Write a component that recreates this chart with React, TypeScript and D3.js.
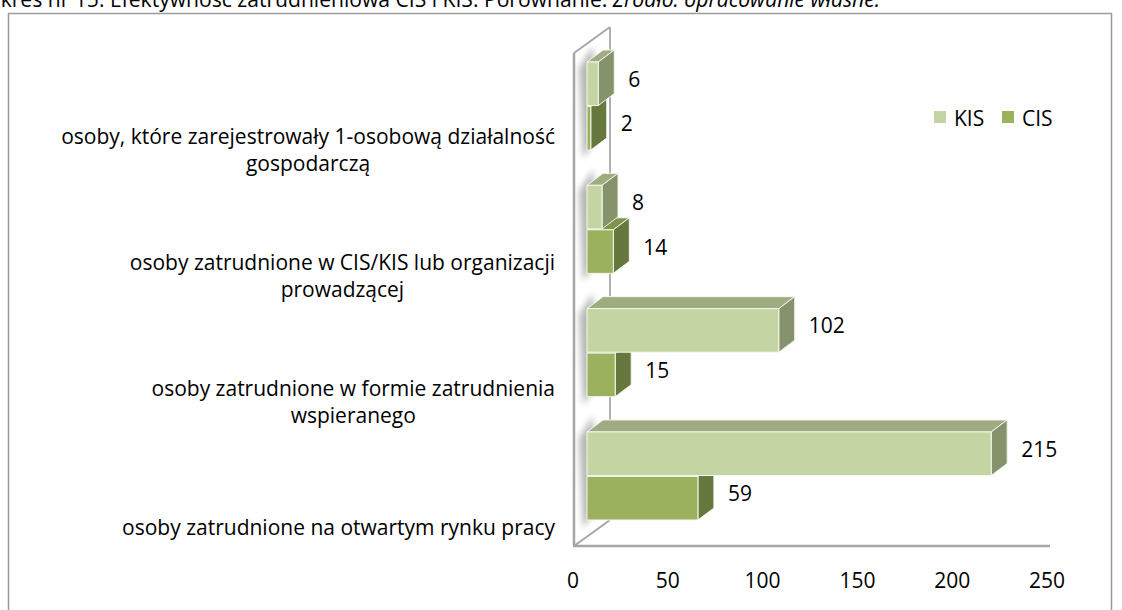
import React from "react";
import * as d3 from "d3";

const categories = [
  "osoby, które zarejestrowały 1-osobową działalność gospodarczą",
  "osoby zatrudnione w CIS/KIS lub organizacji prowadzącej",
  "osoby zatrudnione w formie zatrudnienia wspieranego",
  "osoby zatrudnione na otwartym rynku pracy",
];
const categoryLines = [
  ["osoby, które zarejestrowały 1-osobową działalność", "gospodarczą"],
  ["osoby zatrudnione w CIS/KIS lub organizacji", "prowadzącej"],
  ["osoby zatrudnione w formie zatrudnienia", "wspieranego"],
  ["osoby zatrudnione na otwartym rynku pracy"],
];
const seriesNames = ["KIS", "CIS"];
const kisValues = [6, 8, 102, 215];
const cisValues = [2, 14, 15, 59];
const xTicks = [0, 50, 100, 150, 200, 250];
const titleNormal = "Wykres nr 15. Efektywność zatrudnieniowa CIS i KIS. Porównanie. ";
const titleItalic = "Źródło: opracowanie własne.";

const FONT = "'Open Sans', 'Noto Sans', sans-serif";
const W = 1122;
const H = 610;

const colors: Record<string, { front: string; top: string; side: string; legend: string }> = {
  KIS: { front: "#c4d5a3", top: "#9fac82", side: "#86926b", legend: "#c4d5a3" },
  CIS: { front: "#9bb15e", top: "#7f9249", side: "#67783e", legend: "#9bb15e" },
};

function measure(text: string, size: number, style = "") {
  if (typeof document === "undefined") return text.length * size * 0.5;
  const c = document.createElement("canvas");
  const ctx = c.getContext("2d")!;
  ctx.font = `${style} ${size}px ${FONT}`;
  return ctx.measureText(text).width;
}

export default function App() {
  // fit the font so the longest category line spans like the reference
  const refW = measure(categoryLines[0][0], 20);
  const FS = Math.min(21, Math.max(16, (20 * 499) / refW));
  const titleVisible = "kres nr 15. Efektywność zatrudnieniowa CIS i KIS. Porównanie. ";
  const tW = measure(titleVisible, 15) + measure(titleItalic, 15, "italic");
  const TFS = Math.min(22, Math.max(12, (15 * 880) / tW));

  // axis (front floor edge) scale
  const xAxis = d3.scaleLinear().domain([0, 250]).range([573, 1047]);
  // bar front-plane scale
  const xBar = d3.scaleLinear().domain([0, 250]).range([587, 1057]);
  const yGroup = d3.scaleBand<string>().domain(categories).range([62, 520]).paddingInner(0.286).paddingOuter(0);
  const ySeries = d3.scaleBand<string>().domain(seriesNames).range([0, yGroup.bandwidth()]).paddingInner(0.02);
  const yLabel = d3.scaleBand<string>().domain(categories).range([86, 590]);

  const dx = 16;
  const dy = 12;
  const floorY = 546;
  const wallTop = 53;
  const wallDx = 36;
  const wallDy = 26;

  const bars: any[] = [];
  categories.forEach((cat, i) => {
    [
      { s: "CIS", v: cisValues[i] },
      { s: "KIS", v: kisValues[i] },
    ].forEach(({ s, v }) => {
      const y = (yGroup(cat) as number) + (ySeries(s) as number);
      const h = ySeries.bandwidth();
      const x0 = xBar(0);
      const x1 = xBar(v);
      bars.push({ cat, s, v, y, h, x0, x1 });
    });
  });

  const lineH = 27;

  return (
    <svg width={W} height={H} style={{ position: "fixed", left: 0, top: 0, background: "#fff" }} fontFamily={FONT}>
      <defs>
        <filter id="blur" x="-50%" y="-50%" width="200%" height="200%">
          <feGaussianBlur stdDeviation="3" />
        </filter>
      </defs>
      {/* title (partly above the page edge, as in the reference) */}
      <text x={880} y={7} fontSize={TFS} textAnchor="end" fill="#000">
        {titleNormal}
        <tspan fontStyle="italic">{titleItalic}</tspan>
      </text>
      {/* chart border */}
      <rect x={8.5} y={13.5} width={1103} height={620} fill="#fff" stroke="#9a9a9a" strokeWidth={1.5} />

      {/* side wall */}
      <polygon
        points={`${xAxis(0) + 1},${floorY} ${xAxis(0) + 1},${wallTop} ${xAxis(0) + 1 + wallDx},${wallTop - wallDy} ${xAxis(0) + 1 + wallDx},${floorY - wallDy}`}
        fill="#fff"
        stroke="none"
      />
      {/* shadows on wall */}
      {categories.map((cat) => {
        const top = yGroup(cat) as number;
        const bottom = top + yGroup.bandwidth();
        return (
          <polygon
            key={"sh" + cat}
            points={`${xBar(0) - 8},${top + 6} ${xBar(0) + 6},${top - dy - 4} ${xBar(0) + 10},${bottom - dy} ${xBar(0) - 4},${bottom + 8}`}
            fill="#000"
            opacity={0.28}
            filter="url(#blur)"
          />
        );
      })}
      <line x1={xAxis(0) + 1} x2={xAxis(0) + 1} y1={wallTop} y2={floorY} stroke="#a6a6a6" strokeWidth={2.5} />
      <line x1={xAxis(0) + 1} x2={xAxis(0) + 1 + wallDx} y1={wallTop} y2={wallTop - wallDy} stroke="#a6a6a6" strokeWidth={2} />
      <line x1={xAxis(0) + 1 + wallDx} x2={xAxis(0) + 1 + wallDx} y1={wallTop - wallDy} y2={floorY - wallDy} stroke="#b0b0b0" strokeWidth={2} />
      <line x1={xAxis(0) + 1} x2={xAxis(0) + 1 + wallDx} y1={floorY} y2={floorY - wallDy} stroke="#a6a6a6" strokeWidth={2} />
      <line x1={xAxis(0)} x2={xAxis(250) + 3} y1={floorY} y2={floorY} stroke="#a6a6a6" strokeWidth={2.5} />

      {/* bars */}
      {bars.map((b, i) => {
        const c = colors[b.s];
        return (
          <g key={i} stroke="#f4f7ee" strokeWidth={1} strokeLinejoin="round">
            <polygon
              points={`${b.x0},${b.y} ${b.x0 + dx},${b.y - dy} ${b.x1 + dx},${b.y - dy} ${b.x1},${b.y}`}
              fill={c.top}
            />
            <polygon
              points={`${b.x1},${b.y} ${b.x1 + dx},${b.y - dy} ${b.x1 + dx},${b.y + b.h - dy} ${b.x1},${b.y + b.h}`}
              fill={c.side}
            />
            <rect x={b.x0} y={b.y} width={b.x1 - b.x0} height={b.h} fill={c.front} />
          </g>
        );
      })}

      {/* value labels */}
      {bars.map((b, i) => (
        <text
          key={"v" + i}
          x={b.x1 + dx + 14}
          y={b.y + b.h / 2 - 5}
          fontSize={FS}
          dominantBaseline="central"
          fill="#000"
        >
          {b.v}
        </text>
      ))}

      {/* category labels */}
      {categories.map((cat, i) => {
        const lines = categoryLines[i];
        const maxW = Math.max(...lines.map((l) => measure(l, FS)));
        const cx = 555 - maxW / 2;
        const cy = (yLabel(cat) as number) + yLabel.bandwidth() / 2;
        const startY = cy - ((lines.length - 1) * lineH) / 2;
        return (
          <text key={"c" + i} fontSize={FS} textAnchor="middle" fill="#000">
            {lines.map((l, j) => (
              <tspan key={j} x={cx} y={startY + j * lineH} dominantBaseline="central">
                {l}
              </tspan>
            ))}
          </text>
        );
      })}

      {/* x tick labels */}
      {xTicks.map((t) => (
        <text key={"t" + t} x={xAxis(t)} y={580} fontSize={FS} textAnchor="middle" dominantBaseline="central" fill="#000">
          {t}
        </text>
      ))}

      {/* legend */}
      {seriesNames.map((s, i) => {
        const lx = 934 + i * 68;
        return (
          <g key={"l" + s}>
            <rect x={lx} y={111} width={12} height={12} fill={colors[s].legend} />
            <text x={lx + 20} y={118} fontSize={FS} dominantBaseline="central" fill="#000">
              {s}
            </text>
          </g>
        );
      })}
    </svg>
  );
}
